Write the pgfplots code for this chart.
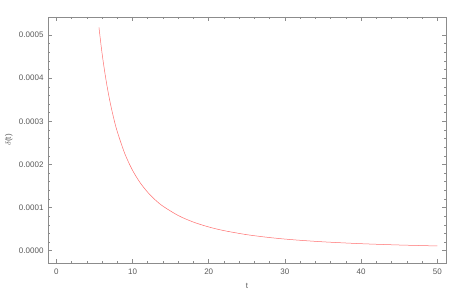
\documentclass[border=0pt]{standalone}
\usepackage{pgfplots}
\pgfplotsset{compat=1.18}
\usepackage{fontspec}
\setmainfont{Liberation Sans}
\definecolor{framegray}{RGB}{140,140,140}
\definecolor{labelgray}{RGB}{90,90,90}
\definecolor{curvered}{RGB}{255,110,110}
\begin{document}
\begin{tikzpicture}
\path[use as bounding box] (0,0) rectangle (463pt,296pt);
\begin{axis}[
  at={(48pt,33pt)}, anchor=south west,
  scale only axis, width=398pt, height=246pt,
  xmin=-1.09, xmax=51.14,
  ymin=-0.0000285, ymax=0.0005417,
  xtick={0,10,20,30,40,50},
  minor x tick num=4,
  ytick={0,0.0001,0.0002,0.0003,0.0004,0.0005},
  minor y tick num=4,
  scaled y ticks=false,
  yticklabel style={/pgf/number format/fixed, /pgf/number format/fixed zerofill, /pgf/number format/precision=4, xshift=-1pt},
  /pgf/number format/assume math mode=true,
  tick align=inside,
  major tick length=4pt, minor tick length=2pt,
  axis line style={framegray, line width=0.6pt},
  every tick/.style={framegray, line width=0.5pt},
  tick label style={font=\fontsize{8}{9}\selectfont, text=labelgray},
  label style={font=\fontsize{8}{9}\selectfont, text=labelgray},
  xlabel={t}, ylabel={$\delta$(t)},
  xlabel style={at={(axis description cs:0.5,0)}, anchor=north, yshift=-17pt},
  ylabel style={at={(axis description cs:0,0.5)}, anchor=south, yshift=32pt},
  xticklabel style={yshift=-2pt},
]
\addplot[curvered, line width=0.5pt, smooth] coordinates {
(5.6,5.174e-4) (6,4.581e-4) (6.5,3.980e-4) (7,3.493e-4) (7.5,3.094e-4)
(8,2.761e-4) (9,2.245e-4) (10,1.865e-4) (11,1.577e-4) (12,1.353e-4)
(13,1.175e-4) (14,1.031e-4) (16,8.153e-5) (18,6.627e-5) (20,5.505e-5)
(22,4.655e-5) (25,3.717e-5) (28,3.045e-5) (31,2.547e-5) (35,2.057e-5)
(40,1.625e-5) (45,1.321e-5) (50,1.098e-5)
};
\end{axis}
\end{tikzpicture}
\end{document}
